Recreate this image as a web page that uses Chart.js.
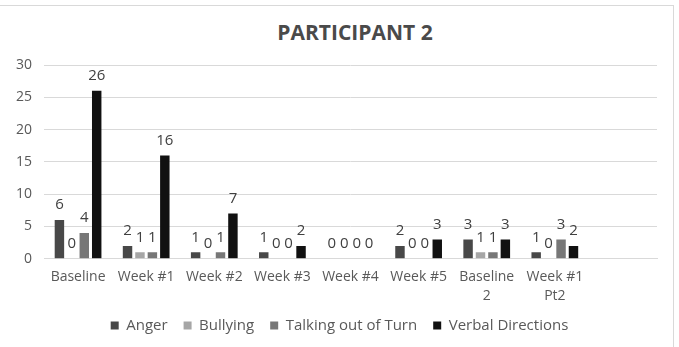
<!DOCTYPE html>
<html>
<head>
<meta charset="utf-8">
<script src="https://cdn.jsdelivr.net/npm/chart.js@4/dist/chart.umd.min.js"></script>
<style>
  body { margin: 0; background: #fff; }
  #wrap { position: relative; width: 679px; height: 347px; }
  #frame { position: absolute; left: -2px; top: 5px; width: 676px; height: 350px; border: 1px solid #d9d9d9; box-sizing: border-box; }
  #title { position: absolute; left: 0; top: 18px; width: 710px; text-align: center; font: bold 21px "Open Sans", sans-serif; color: #4a4a4a; }
  canvas { position: absolute; left: 0; top: 0; }
</style>
</head>
<body>
<div id="wrap">
  <div id="frame"></div>
  <div id="title">PARTICIPANT 2</div>
  <canvas id="chart" width="679" height="347"></canvas>
</div>
<script>
const categories = ['Baseline', 'Week #1', 'Week #2', 'Week #3', 'Week #4', 'Week #5', ['Baseline', '2'], ['Week #1', 'Pt2'], ''];
const anger = [6, 2, 1, 1, 0, 2, 3, 1, null];
const bullying = [0, 1, 0, 0, 0, 0, 1, 0, null];
const talkingOut = [4, 1, 1, 0, 0, 0, 1, 3, null];
const verbalDirections = [26, 16, 7, 2, 0, 3, 3, 2, null];
const yTicks = [0, 5, 10, 15, 20, 25, 30];

const fontFam = '"Open Sans", sans-serif';
Chart.defaults.font.family = fontFam;
Chart.defaults.color = '#595959';

// draws the number above every bar
const valueLabels = {
  id: 'valueLabels',
  afterLayout(chart) {
    // legend sits a little right of centre and higher in the original
    chart.legend.left += 9;
    chart.legend.right += 9;
    chart.legend.top -= 4;
    chart.legend.bottom -= 4;
  },
  afterDatasetsDraw(chart) {
    const c = chart.ctx;
    c.save();
    c.font = '15px ' + fontFam;
    c.fillStyle = '#404040';
    c.textAlign = 'center';
    c.textBaseline = 'middle';
    chart.data.datasets.forEach((ds, i) => {
      const meta = chart.getDatasetMeta(i);
      meta.data.forEach((bar, j) => {
        const v = ds.data[j];
        if (v === null || v === undefined) return;
        c.fillText(String(v), bar.x, bar.y - 15);
      });
    });
    c.restore();
  }
};

const ctx = document.getElementById('chart');

const myChart = new Chart(ctx, {
  type: 'bar',
  data: {
    labels: categories,
    datasets: [
      { label: 'Anger', data: anger, backgroundColor: '#484848' },
      { label: 'Bullying', data: bullying, backgroundColor: '#a6a6a6' },
      { label: 'Talking out of Turn', data: talkingOut, backgroundColor: '#777777' },
      { label: 'Verbal Directions', data: verbalDirections, backgroundColor: '#111111' }
    ]
  },
  options: {
    responsive: false,
    animation: false,
    layout: { padding: { left: 4, right: 22, top: 65, bottom: 0 } },
    datasets: {
      bar: { barPercentage: 0.76, categoryPercentage: 0.73 }
    },
    plugins: {
      title: { display: false },
      legend: {
        position: 'bottom',
        labels: {
          boxWidth: 8,
          boxHeight: 8,
          padding: 16,
          color: '#595959',
          font: { size: 15, family: fontFam }
        }
      },
      tooltip: { enabled: false }
    },
    scales: {
      x: {
        grid: { display: false },
        border: { color: '#d9d9d9' },
        ticks: { color: '#595959', font: { size: 14, family: fontFam, lineHeight: 1.4 }, maxRotation: 0, autoSkip: false, padding: 0 }
      },
      y: {
        min: 0,
        max: 30,
        afterBuildTicks: axis => { axis.ticks = yTicks.map(v => ({ value: v })); },
        grid: { color: '#d9d9d9', drawTicks: false },
        border: { display: false },
        ticks: { color: '#595959', font: { size: 14, family: fontFam }, padding: 12 }
      }
    }
  },
  plugins: [valueLabels]
});
</script>
</body>
</html>
